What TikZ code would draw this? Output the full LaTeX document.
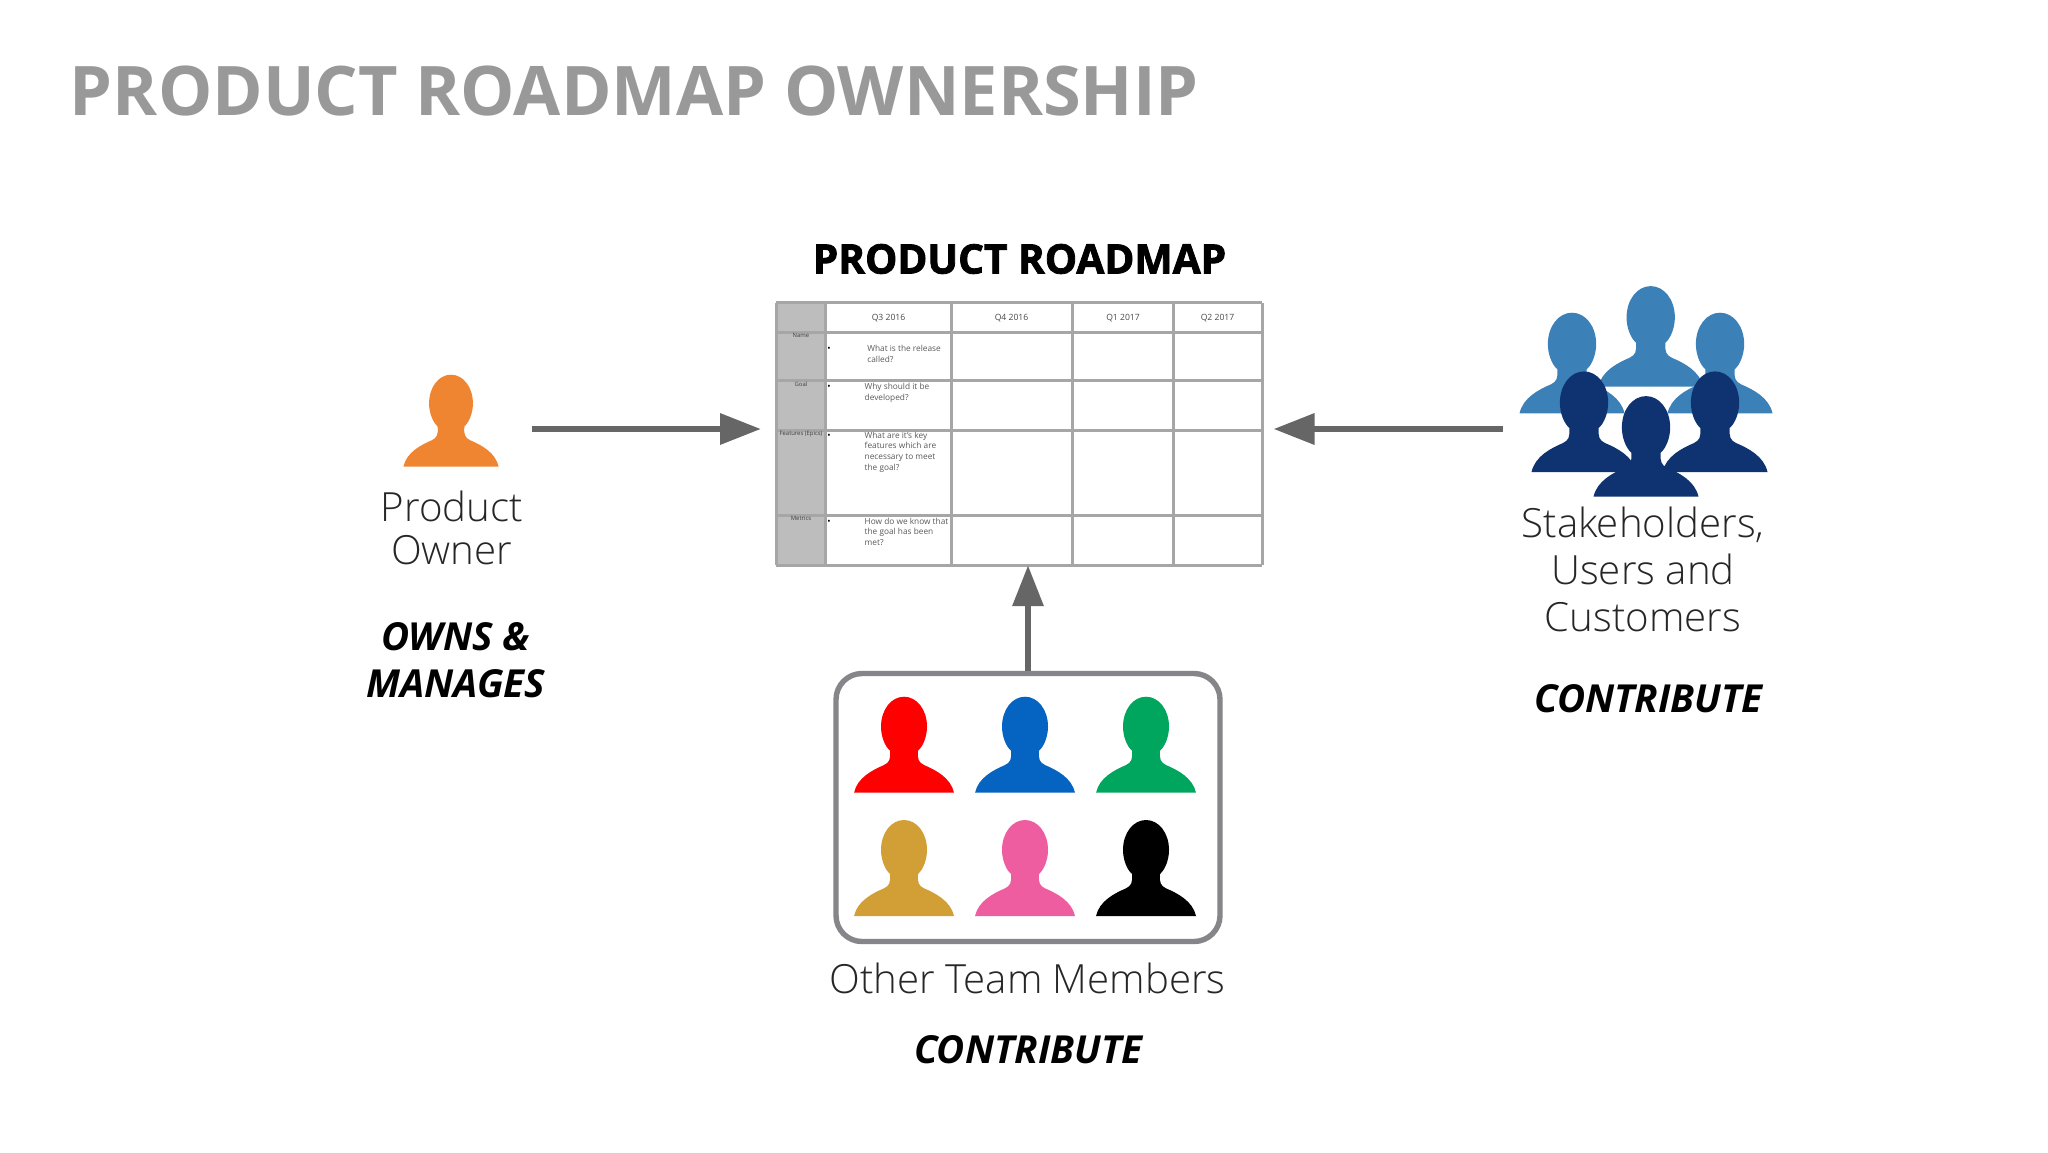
\documentclass[tikz,border=0pt]{standalone}
\usepackage{fontspec}
\setmainfont{Open Sans}
\newfontfamily\oslight{Open Sans Light}
\newfontfamily\osheavy[FakeBold=2]{Open Sans}[BoldFont={Open Sans Bold}]
\usetikzlibrary{arrows.meta}
\definecolor{flowgrey}{HTML}{666666}
\definecolor{gridgrey}{HTML}{A6A6A6}
\definecolor{headgrey}{HTML}{BEBDBD}
\definecolor{boxgrey}{HTML}{85858A}
\definecolor{titlegrey}{HTML}{999999}
\definecolor{cellgrey}{HTML}{595959}
\definecolor{lightblue}{HTML}{3C80B8}
\definecolor{darkblue}{HTML}{0F3270}
\definecolor{pgold}{HTML}{D19F36}
\definecolor{pblue}{HTML}{0563C1}
\definecolor{pgreen}{HTML}{00A65D}
\definecolor{ppink}{HTML}{EE5DA0}
\definecolor{porange}{HTML}{EF8431}
\newcommand\person[5]{%
  \fill[#1,shift={(#2,#3)},xscale=#4/300,yscale=-#5/288]
    (-150,0) .. controls (-140,45) and (-95,68) .. (-60,83)
    .. controls (-44,91) and (-40,100) .. (-42,126)
    .. controls (-58,140) and (-69,170) .. (-69,198)
    .. controls (-69,250) and (-38,288) .. (0,288)
    .. controls (38,288) and (69,250) .. (69,198)
    .. controls (69,170) and (58,140) .. (42,126)
    .. controls (40,100) and (44,91) .. (60,83)
    .. controls (95,68) and (140,45) .. (150,0) -- cycle;}
\tikzset{
  flow/.style={draw=flowgrey,line width=3.25pt,-{Triangle[length=20.5pt,width=15pt]}},
  grid line/.style={draw=gridgrey,line width=1.5pt},
  title text/.style={font=\fontsize{34.2}{35}\selectfont\bfseries,text=titlegrey,anchor=base west,inner sep=0pt},
  heavy text/.style={font=\fontsize{20.3}{21.5}\selectfont\osheavy\bfseries,text=black,anchor=base,inner sep=0pt},
  label text/.style={font=\fontsize{20.1}{21.5}\selectfont\oslight,text=black!85,align=center,anchor=base,inner sep=0pt},
  action text/.style={font=\fontsize{19.3}{23.5}\selectfont\bfseries\itshape,text=black,align=center,anchor=base,inner sep=0pt},
  col head/.style={font=\fontsize{4.3}{5}\selectfont,text=cellgrey!80!black,anchor=base,inner sep=0pt},
  row head/.style={font=\fontsize{2.95}{4}\selectfont,text=black!75,anchor=base,inner sep=0pt},
  cell text/.style={font=\fontsize{4.15}{5.3}\selectfont,text=cellgrey,anchor=base west,align=left,inner sep=0pt},
  bullet mark/.style={font=\fontsize{4.4}{5}\selectfont,text=black,anchor=base,inner sep=0pt},
}
\begin{document}
\begin{tikzpicture}[x=0.5pt,y=-0.5pt]
\useasboundingbox (0,0) rectangle (2048,1152);
\fill[white] (0,0) rectangle (2048,1152);

\node[title text] (title) at (69.5,115) {PRODUCT ROADMAP OWNERSHIP};
\node[heavy text] (rmtitle) at (1019.5,273.5) {PRODUCT ROADMAP};

% table
\fill[headgrey] (776,302.7) rectangle (825.7,565);
\node[inner sep=0pt,minimum width=243pt,minimum height=131pt] (roadmap) at (1019,433.8) {};
\foreach \x in {776,825.7,951,1072,1173.7,1262} \draw[grid line] (\x,302.7) -- (\x,565);
\foreach \y in {302.7,332,380.7,430,515,565} \draw[grid line] (776,\y) -- (1262,\y);

\node[col head] (h1) at (888.5,320.7) {Q3 2016};
\node[col head] (h2) at (1011.5,320.7) {Q4 2016};
\node[col head] (h3) at (1123,320.7) {Q1 2017};
\node[col head] (h4) at (1217.5,320.7) {Q2 2017};
\node[row head] (r1) at (801,337) {Name};
\node[row head] (r2) at (801,386) {Goal};
\node[row head] (r3) at (801,435) {Features (Epics)};
\node[row head] (r4) at (801,520.7) {Metrics};
\node[bullet mark] (b1) at (829,351) {•};
\node[bullet mark] (b2) at (829,389) {•};
\node[bullet mark] (b3) at (829,438) {•};
\node[bullet mark] (b4) at (829,524) {•};
\node[cell text] (c1) at (867,362.3) {What is the release\\called?};
\node[cell text] (c2) at (864.3,400) {Why should it be\\developed?};
\node[cell text] (c3) at (864.3,470) {What are it's key\\features which are\\necessary to meet\\the goal?};
\node[cell text] (c4) at (864.3,545.2) {How do we know that\\the goal has been\\met?};

% product owner
\person{porange}{451}{466.7}{95.3}{92}
\node[label text] (ownerlabel) at (451.7,564.3) {Product\\Owner};
\node[action text] (ownsaction) at (455.7,697) {OWNS \&\\MANAGES};

% stakeholders
\person{lightblue}{1572}{413.3}{105}{100.6}
\person{lightblue}{1720}{413.3}{105}{100.6}
\person{lightblue}{1650.7}{386.7}{105}{100.6}
\person{darkblue}{1584}{472}{105}{100.6}
\person{darkblue}{1715}{472}{105}{100.6}
\person{darkblue}{1646}{496.7}{105}{100.6}
\node[label text,font=\fontsize{20.1}{23.5}\selectfont\oslight] (stakelabel) at (1643,631) {Stakeholders,\\Users and\\Customers};
\node[action text] (stakeaction) at (1648.5,712) {CONTRIBUTE};

% team
\node[draw=boxgrey,line width=2.7pt,rounded corners=13pt,fill=white,minimum width=192pt,minimum height=134pt,inner sep=0pt] (team) at (1028,807.5) {};
\person{red}{904}{792.7}{100}{96}
\person{pblue}{1025}{792.7}{100}{96}
\person{pgreen}{1146}{792.7}{100}{96}
\person{pgold}{904}{916}{100}{96}
\person{ppink}{1025}{916}{100}{96}
\person{black}{1146}{916}{100}{96}
\node[label text] (teamlabel) at (1027.4,993) {Other Team Members};
\node[action text] (teamaction) at (1028.4,1063.5) {CONTRIBUTE};

% connectors
\coordinate (ownerout) at (531.7,429);
\coordinate (stakeout) at (1503,429);
\coordinate (tipleft) at (761,429);
\coordinate (tipright) at (1273.5,429);
\draw[flow] (ownerout) -- (tipleft);
\draw[flow] (stakeout) -- (tipright);
\draw[flow] (team.north) -- (team.north |- roadmap.south);
\end{tikzpicture}
\end{document}
